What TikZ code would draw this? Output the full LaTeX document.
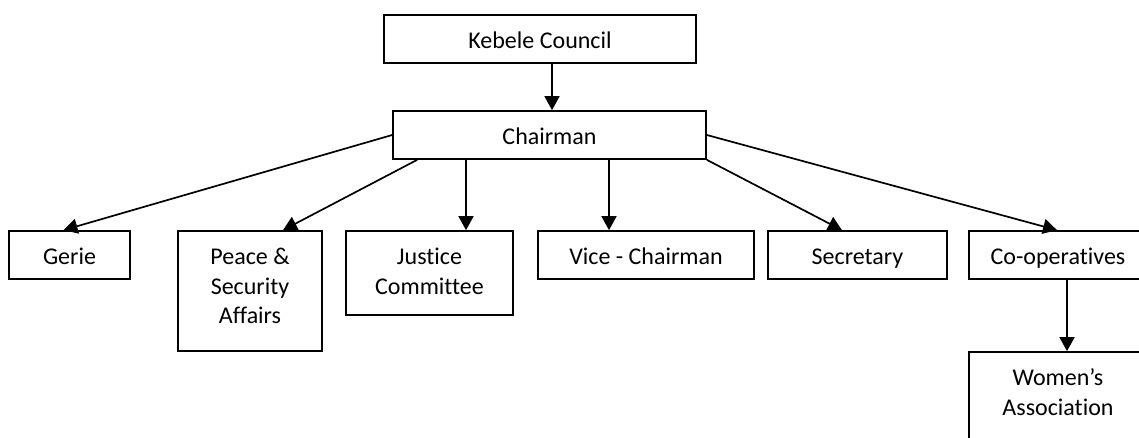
\documentclass[tikz,border=0pt]{standalone}
\usepackage{fontspec}
\setmainfont{Carlito}[Ligatures=NoCommon]
\usetikzlibrary{arrows.meta}
% \orgunit{name}{left}{top}{right}{bottom}{text}
\newcommand\orgunit[6]{%
  \node[unitbox, minimum width={#4-#2}, minimum height={#5-#3}] (#1) at ({(#2+#4)/2},{(#3+#5)/2}) {};
  \node[unittext] (#1-t) at ([yshift=-34.5pt]#1.north) {\parbox[t]{220pt}{\centering\fontsize{24}{29.5}\selectfont #6}};
}
\begin{document}
\begin{tikzpicture}[x=1pt,y=-1pt,
  unitbox/.style={draw, line width=1.7pt, inner sep=0pt, rectangle},
  unittext/.style={anchor=base, inner sep=0pt},
  link/.style={line width=1.7pt, -{Triangle[length=14pt,width=15pt]}}]
\useasboundingbox (0,0) rectangle (1139,437);
\clip (0,0) rectangle (1139,437);

% top levels
\orgunit{keb}{384}{15}{696}{63}{Kebele Council}
\orgunit{chair}{393}{111}{706}{159}{Chairman}

% second level
\orgunit{gerie}{9}{231}{130}{279}{Gerie}
\orgunit{peace}{178}{231}{322}{351}{Peace \&\\Security\\Affairs}
\orgunit{just}{346}{231}{513}{315}{Justice\\Committee}
\orgunit{vice}{538}{231}{754}{279}{Vice - Chairman}
\orgunit{secr}{768}{231}{947}{279}{Secretary}
\orgunit{coop}{969}{231}{1147}{279}{Co-operatives}

% third level
\orgunit{women}{969}{352}{1147}{446}{Women’s\\Association}

% connectors
\path ([xshift=12pt]keb.south) coordinate (k1);
\draw[link] (k1) -- (k1 |- chair.north);

\draw[link] (chair.west) -- ([xshift=-6pt]gerie.north);
\draw[link] ([xshift=25pt]chair.south west) -- ([xshift=33pt]peace.north);

\path ([xshift=-83.5pt]chair.south) coordinate (c1);
\draw[link] (c1) -- (c1 |- just.north);
\path ([xshift=59.5pt]chair.south) coordinate (c2);
\draw[link] (c2) -- (c2 |- vice.north);

\draw[link] (chair.south east) -- ([xshift=-15.5pt]secr.north);
\draw[link] (chair.east) -- ([xshift=-1pt]coop.north);

\path ([xshift=9pt]coop.south) coordinate (p1);
\draw[link] (p1) -- (p1 |- women.north);
\end{tikzpicture}
\end{document}
